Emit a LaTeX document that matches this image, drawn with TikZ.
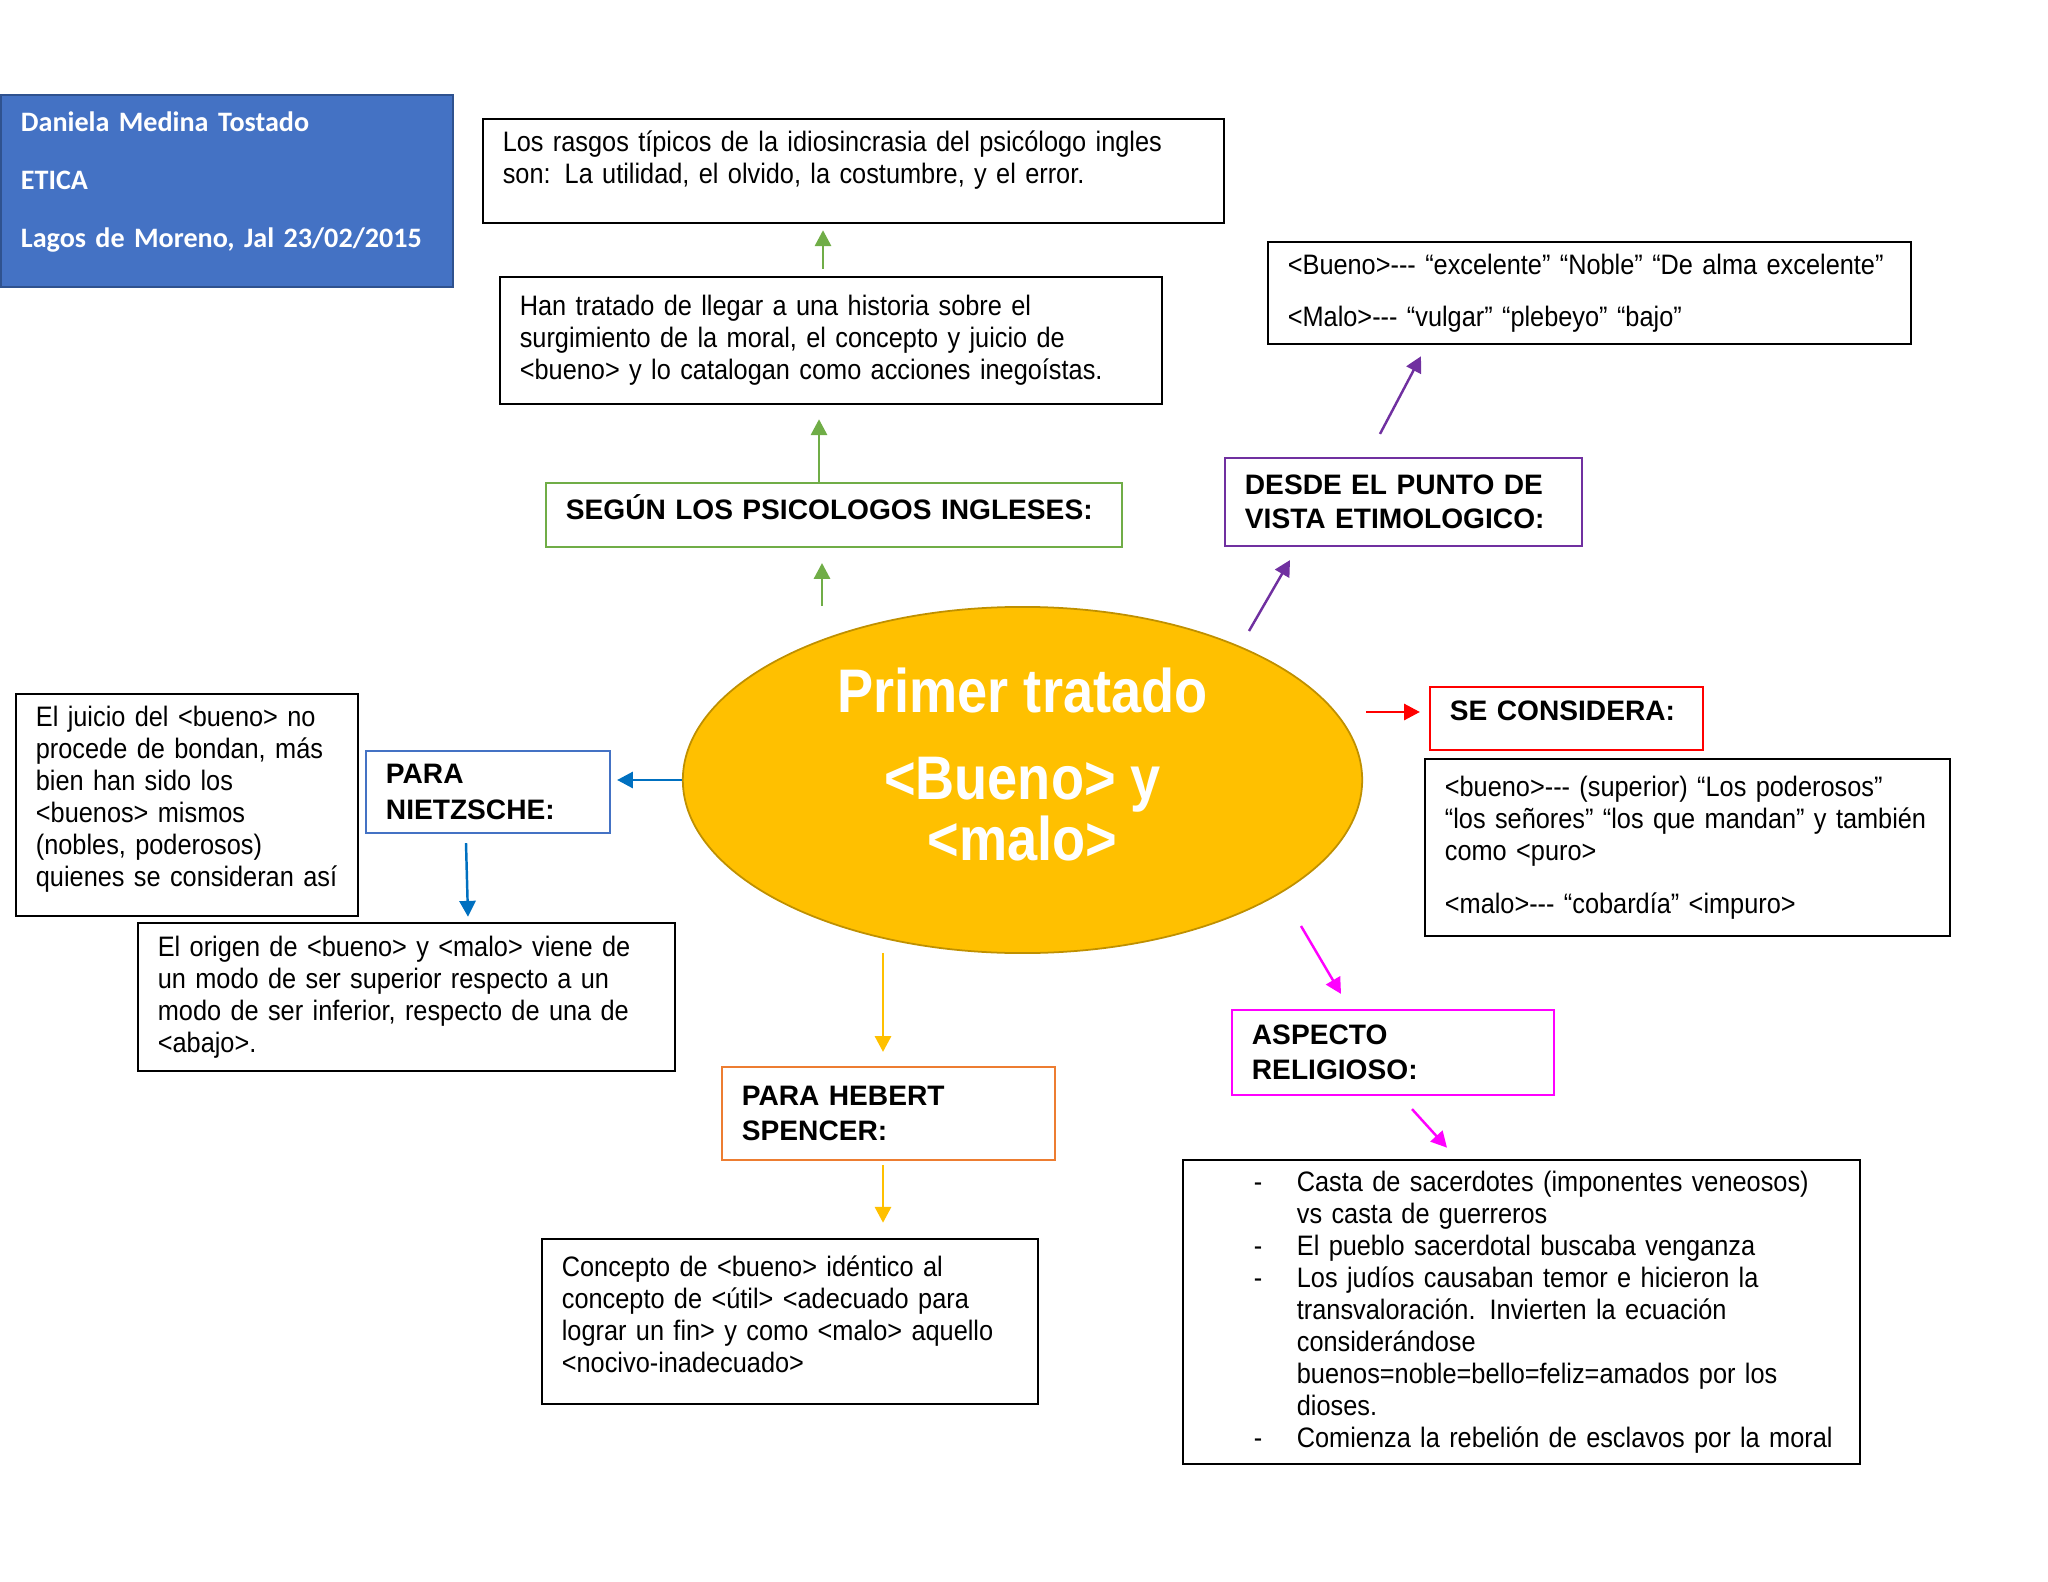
\documentclass[tikz,border=0pt]{standalone}
\usepackage{fontspec}
\setmainfont{Liberation Sans}
\newfontfamily\cuerpo[FakeStretch=0.9]{Liberation Sans}
\newfontfamily\centro[FakeStretch=0.88]{Liberation Sans}
\newfontfamily\membrete{Carlito}
\definecolor{ofazul}{RGB}{68,114,196}
\definecolor{ofazuloscuro}{RGB}{47,82,143}
\definecolor{ofazulflecha}{RGB}{0,112,192}
\definecolor{ofverde}{RGB}{112,173,71}
\definecolor{ofmorado}{RGB}{112,48,160}
\definecolor{ofrojo}{RGB}{255,0,0}
\definecolor{ofmagenta}{RGB}{255,0,255}
\definecolor{oforo}{RGB}{255,192,0}
\definecolor{ofocre}{RGB}{191,144,0}
\definecolor{ofnaranja}{RGB}{237,125,49}
\usetikzlibrary{arrows.meta,shapes.geometric,calc}
\newcommand{\guion}{\hspace*{0.51cm}\makebox[0.43cm][l]{-}}
\newcommand{\sangria}{\hspace*{0.94cm}}

\begin{document}
\begin{tikzpicture}[x=0.01cm, y=-0.01cm,
  textbox/.style={draw=black, line width=0.7pt, inner xsep=0.2cm, inner ysep=0.05cm,
    align=left, font=\cuerpo\fontsize{8}{9.1}\selectfont},
  titlebox/.style={draw, line width=0.6pt, inner xsep=0.2cm, inner ysep=0.05cm,
    align=left, font=\bfseries\fontsize{8}{9.8}\selectfont},
  flecha/.style={-{Triangle[length=4.5pt,width=4.6pt]}, line width=0.7pt}]

\useasboundingbox (0,0) rectangle (2048,1582);

\node[fill=ofazul, draw=ofazuloscuro, line width=0.7pt, minimum width=4.52cm,
  minimum height=1.92cm, text width=4.12cm, inner xsep=0.2cm, align=left, text=white,
  font=\membrete\bfseries\fontsize{8}{16.5}\selectfont] (datos) at (227,191)
  {Daniela Medina Tostado\\ETICA\\Lagos de Moreno, Jal 23/02/2015\\[-10pt]\mbox{}};

\node[ellipse, fill=oforo, draw=ofocre, line width=0.5pt, minimum width=6.79cm,
  minimum height=3.46cm, inner sep=0pt, align=center, text=white,
  font=\centro\bfseries\fontsize{17.5}{17.4}\selectfont] (tratado) at (1022.5,780)
  {Primer tratado\\[7.4pt]<Bueno> y\\<malo>\\[-8.4pt]\mbox{}};

% psicologos ingleses
\node[titlebox, draw=ofverde, minimum width=5.76cm, minimum height=0.64cm,
  text width=5.36cm] (ingleses) at (834,515) {SEGÚN LOS PSICOLOGOS INGLESES:\\[-5.2pt]\mbox{}};
\node[textbox, minimum width=6.62cm, minimum height=1.27cm, text width=6.22cm]
  (historia) at (831,340.5) {Han tratado de llegar a una historia sobre el\\
  surgimiento de la moral, el concepto y juicio de\\
  <bueno> y lo catalogan como acciones inegoístas.};
\node[textbox, minimum width=7.41cm, minimum height=1.04cm, text width=7.01cm]
  (rasgos) at (853.5,171) {Los rasgos típicos de la idiosincrasia del psicólogo ingles\\
  son: La utilidad, el olvido, la costumbre, y el error.\\[-1.5pt]\mbox{}};

% etimologia
\node[titlebox, draw=ofmorado, minimum width=3.57cm, minimum height=0.88cm,
  text width=3.17cm] (etimologia) at (1403.5,502) {DESDE EL PUNTO DE\\VISTA ETIMOLOGICO:};
\node[textbox, minimum width=6.43cm, minimum height=1.02cm, text width=6.03cm]
  (nobleza) at (1589.5,293) {<Bueno>-{}-{}- “excelente” “Noble” “De alma excelente”\\[5.7pt]
  <Malo>-{}-{}- “vulgar” “plebeyo” “bajo”};

% se considera
\node[titlebox, draw=ofrojo, minimum width=2.73cm, minimum height=0.63cm,
  text width=2.33cm] (considera) at (1566.5,718.5) {SE CONSIDERA:\\[-5.2pt]\mbox{}};
\node[textbox, minimum width=5.25cm, minimum height=1.77cm, text width=4.85cm]
  (poderosos) at (1687.5,847.5) {<bueno>-{}-{}- (superior) “Los poderosos”\\
  “los señores” “los que mandan” y también\\
  como <puro>\\[6pt]
  <malo>-{}-{}- “cobardía” <impuro>};

% aspecto religioso
\node[titlebox, draw=ofmagenta, minimum width=3.22cm, minimum height=0.85cm,
  text width=2.82cm] (religioso) at (1393,1052.5) {ASPECTO\\RELIGIOSO:};
\node[textbox, minimum width=6.77cm, minimum height=3.04cm, text width=6.37cm]
  (sacerdotes) at (1521.5,1312) {%
  \guion Casta de sacerdotes (imponentes veneosos)\\
  \sangria vs casta de guerreros\\
  \guion El pueblo sacerdotal buscaba venganza\\
  \guion Los judíos causaban temor e hicieron la\\
  \sangria transvaloración. Invierten la ecuación\\
  \sangria considerándose\\
  \sangria buenos=noble=bello=feliz=amados por los\\
  \sangria dioses.\\
  \guion Comienza la rebelión de esclavos por la moral};

% nietzsche
\node[titlebox, draw=ofazul, minimum width=2.44cm, minimum height=0.82cm,
  text width=2.04cm, font=\bfseries\fontsize{8}{10.2}\selectfont] (nietzsche) at (488,792)
  {PARA\\NIETZSCHE:};
\node[textbox, minimum width=3.42cm, minimum height=2.22cm, text width=3.02cm]
  (juicio) at (187,805) {El juicio del <bueno> no\\procede de bondan, más\\
  bien han sido los\\<buenos> mismos\\(nobles, poderosos)\\quienes se consideran así\\[-4pt]\mbox{}};
\node[textbox, minimum width=5.37cm, minimum height=1.48cm, text width=4.97cm]
  (origen) at (406.5,997) {El origen de <bueno> y <malo> viene de\\
  un modo de ser superior respecto a un\\
  modo de ser inferior, respecto de una de\\
  <abajo>.};

% spencer
\node[titlebox, draw=ofnaranja, minimum width=3.33cm, minimum height=0.93cm,
  text width=2.93cm, font=\bfseries\fontsize{8}{10}\selectfont] (spencer) at (888.5,1113.5)
  {PARA HEBERT\\SPENCER:};
\node[textbox, minimum width=4.96cm, minimum height=1.65cm, text width=4.56cm]
  (util) at (790,1321.5) {Concepto de <bueno> idéntico al\\
  concepto de <útil> <adecuado para\\
  lograr un fin> y como <malo> aquello\\
  <nocivo-inadecuado>\\[-5pt]\mbox{}};

% Connecting arrows
\draw[flecha, ofverde] ($(tratado.north)+(-200.5,0)$) -- ($(ingleses.south)+(-12,15)$);
\draw[flecha, ofverde] ($(ingleses.north)+(-15,0)$) -- ($(historia.south)+(-12,14)$);
\draw[flecha, ofverde] ($(historia.north)+(-8,-7)$) -- ($(rasgos.south)+(-30.5,6)$);
\draw[flecha, ofmorado] ($(tratado.center)+(226.5,-149)$) -- ($(etimologia.south)+(-113.5,13)$);
\draw[flecha, ofmorado] ($(etimologia.north)+(-23.5,-23)$) -- ($(nobleza.south)+(-168.5,11)$);
\draw[flecha, ofrojo] ($(tratado.east)+(3,-68)$) -- ($(considera.west)+(-9,-6.5)$);
\draw[flecha, ofmagenta] ($(tratado.center)+(278.5,146)$) -- ($(religioso.north)+(-52,-15)$);
\draw[flecha, ofmagenta] ($(religioso.south)+(19,13)$) -- ($(sacerdotes.north)+(-74.5,-11)$);
\draw[flecha, ofazulflecha] (tratado.west) -- ($(nietzsche.east)+(6,-12)$);
\draw[flecha, ofazulflecha] ($(nietzsche.south)+(-22,9)$) -- ($(origen.north)+(61.5,-5)$);
\draw[flecha, oforo] ($(tratado.south)+(-139.5,-1)$) -- ($(spencer.north)+(-5.5,-14)$);
\draw[flecha, oforo] ($(spencer.south)+(-5.5,4)$) -- ($(util.north)+(93,-15)$);

\end{tikzpicture}
\end{document}
